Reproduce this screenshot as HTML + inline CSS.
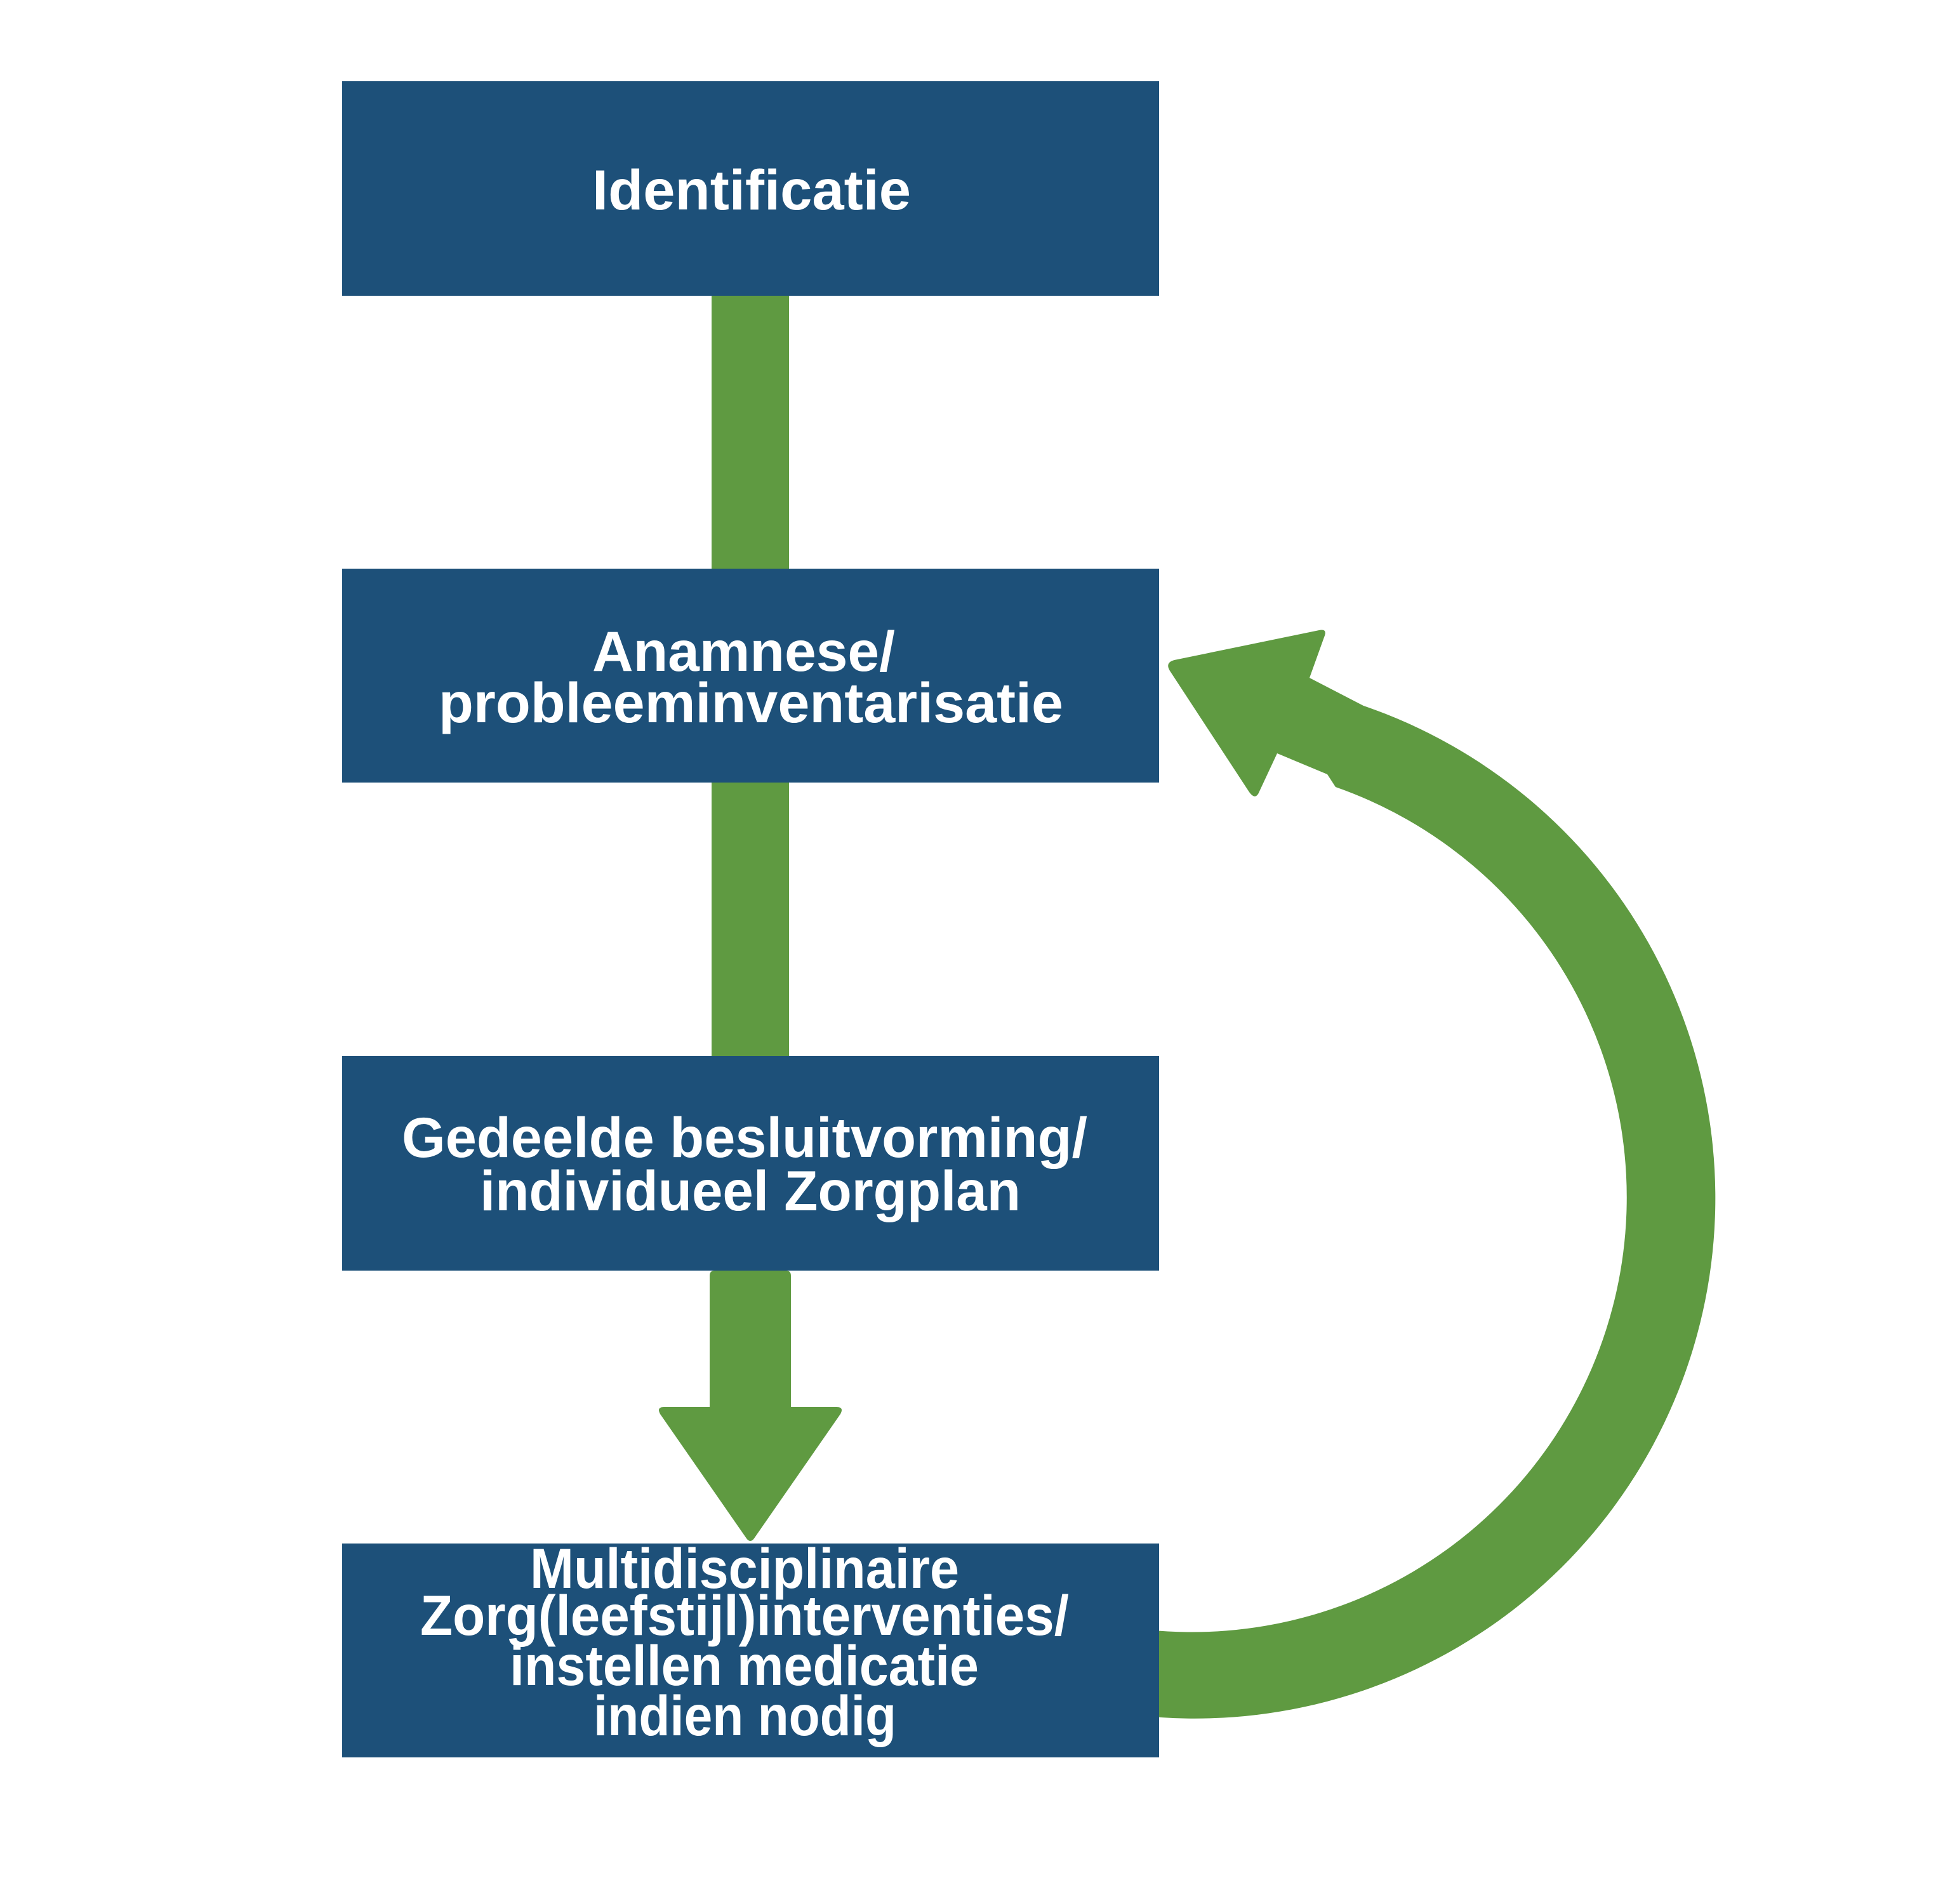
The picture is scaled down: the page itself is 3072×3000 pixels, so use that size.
<!DOCTYPE html>
<html>
<head>
<meta charset="utf-8">
<style>
  html, body { margin: 0; padding: 0; background: #ffffff; }
  body { width: 3072px; height: 3000px; overflow: hidden; }
  svg { display: block; }
  text { font-family: "Liberation Sans", Arial, sans-serif; font-weight: bold; font-size: 89px; fill: #ffffff; }
</style>
</head>
<body>
<svg width="3072" height="3000" viewBox="0 0 3072 3000" xmlns="http://www.w3.org/2000/svg">
  <rect x="0" y="0" width="3072" height="3000" fill="#ffffff"/>

  <!-- vertical connectors -->
  <rect x="1121" y="460" width="122" height="440" fill="#5f9a41"/>
  <rect x="1121" y="1228" width="122" height="440" fill="#5f9a41"/>

  <!-- down arrow -->
  <path d="M1118,2010 Q1118,2002 1126,2002 L1238,2002 Q1246,2002 1246,2010 L1246,2217 L1318,2217 Q1330,2217 1324,2228 L1188,2424 Q1182,2432 1176,2424 L1040,2228 Q1034,2217 1046,2217 L1118,2217 Z" fill="#5f9a41"/>

  <!-- curved return arrow -->
  <path d="M1794,2703 A820,820 0 0 0 2148,1112 L2063,1068 L2086,1004 Q2092,990 2078,993 L1850,1040 Q1835,1044 1843,1057 L1968,1248 Q1978,1262 1984,1247 L2012,1187 L2091,1220 L2104,1240 A685,685 0 0 1 1808,2568 Z" fill="#5f9a41"/>

  <!-- boxes -->
  <rect x="539" y="128" width="1287" height="338" fill="#1d5079"/>
  <rect x="539" y="896" width="1287" height="337" fill="#1d5079"/>
  <rect x="539" y="1664" width="1287" height="338" fill="#1d5079"/>
  <rect x="539" y="2432" width="1287" height="337" fill="#1d5079"/>

  <!-- labels -->
  <text x="933" y="330" textLength="502" lengthAdjust="spacingAndGlyphs">Identificatie</text>

  <text x="933" y="1057" textLength="477" lengthAdjust="spacingAndGlyphs">Anamnese/</text>
  <text x="691" y="1138" textLength="984" lengthAdjust="spacingAndGlyphs">probleeminventarisatie</text>

  <text x="633" y="1823" textLength="1080" lengthAdjust="spacingAndGlyphs">Gedeelde besluitvorming/</text>
  <text x="756" y="1907" textLength="852" lengthAdjust="spacingAndGlyphs">individueel Zorgplan</text>

  <text x="835" y="2502" textLength="676" lengthAdjust="spacingAndGlyphs">Multidisciplinaire</text>
  <text x="662" y="2576" textLength="1022" lengthAdjust="spacingAndGlyphs">Zorg(leefstijl)interventies/</text>
  <text x="803" y="2655" textLength="739" lengthAdjust="spacingAndGlyphs">instellen medicatie</text>
  <text x="935" y="2734" textLength="477" lengthAdjust="spacingAndGlyphs">indien nodig</text>
</svg>
</body>
</html>
